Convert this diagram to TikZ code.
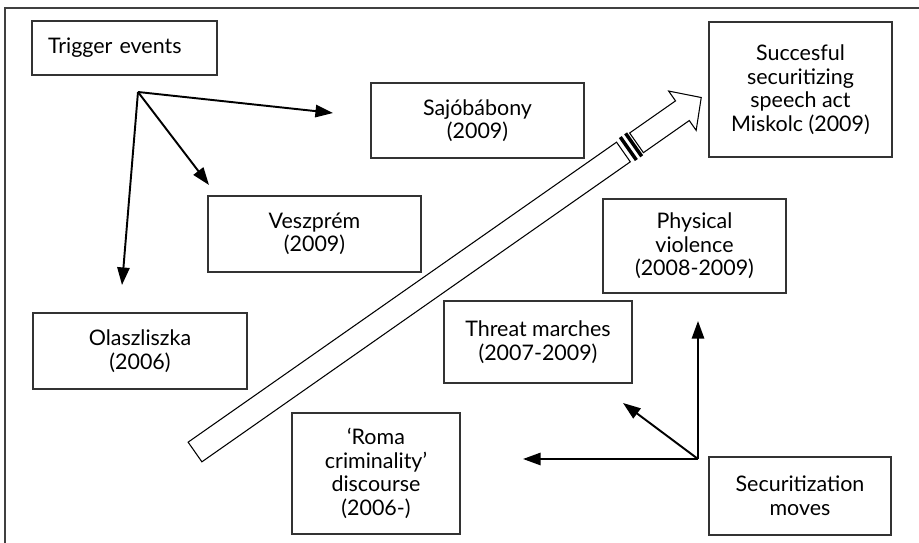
\documentclass[tikz,border=0pt]{standalone}
\usepackage{fontspec}
\setmainfont{Lato}
\usetikzlibrary{arrows.meta}
\tikzset{
  evbox/.style={draw=black!80, line width=0.7pt, align=center, inner sep=0pt,
    font=\fontsize{12.2}{13.4}\selectfont},
  box/.style 2 args={evbox, minimum width=#1*0.02cm, minimum height=#2*0.02cm},
  move/.style={-{Triangle[length=10pt,width=7pt]}, line width=1.1pt},
}
\begin{document}
\begin{tikzpicture}[x=0.02cm,y=0.02cm]
\useasboundingbox (0,0) rectangle (919,543);
% frame, left and top only
\draw[black!75,line width=0.9pt] (5,0) -- (5,535) -- (919,535);

% hollow arrow with the break
\begin{scope}[shift={(195,91)}, rotate=35, line width=0.6pt]
  \draw[fill=white] (0,-12) -- (523,-12) -- (523,12) -- (0,12) -- cycle;
  \draw[fill=white] (539,-12) -- (595,-12) -- (595,-24) -- (618,0)
    -- (595,24) -- (595,12) -- (539,12) -- cycle;
  \draw[line width=2pt] (529,-14) -- (529,14);
  \draw[line width=2pt] (535.5,-14) -- (535.5,14);
\end{scope}

% boxes
\node[box={185}{54}, align=left, inner xsep=0.32cm, text width=3.06cm] (trigger) at (124.5,495) {Trigger events};
\node[box={213}{75}] (sajo) at (477.5,422.5) {Sajóbábony\\(2009)};
\node[box={213}{76}] (veszprem) at (314.5,309) {Veszprém\\(2009)};
\node[box={214}{76}] (olasz) at (140,192) {Olaszliszka\\(2006)};
\node[box={183}{135}] (success) at (800.5,453.5) {Succesful\\securitizing\\speech act\\Miskolc (2009)};
\node[box={183}{94}] (physical) at (694.5,297) {Physical\\violence\\(2008-2009)};
\node[box={188}{82}] (threat) at (538,201) {Threat marches\\(2007-2009)};
\node[box={168}{121}] (roma) at (376,69.5) {‘Roma\\criminality’\\discourse\\(2006-)};
\node[box={182}{78}] (secmoves) at (800,47) {Securitization\\moves};

% trigger events fan out
\coordinate (trig) at (138,451);
\coordinate (tsajo) at (333,430);
\coordinate (tveszprem) at (209,358);
\coordinate (tolasz) at (122,258);
\draw[move] (trig) -- (tsajo);
\draw[move] (trig) -- (tveszprem);
\draw[move] (trig) -- (tolasz);

% securitization moves fan out
\coordinate (sec) at (698,84);
\coordinate (tphysical) at (698,222);
\coordinate (tthreat) at (623,140);
\coordinate (troma) at (523,84);
\draw[move] (sec) -- (tphysical);
\draw[move] (sec) -- (tthreat);
\draw[move] (sec) -- (troma);
\end{tikzpicture}
\end{document}
